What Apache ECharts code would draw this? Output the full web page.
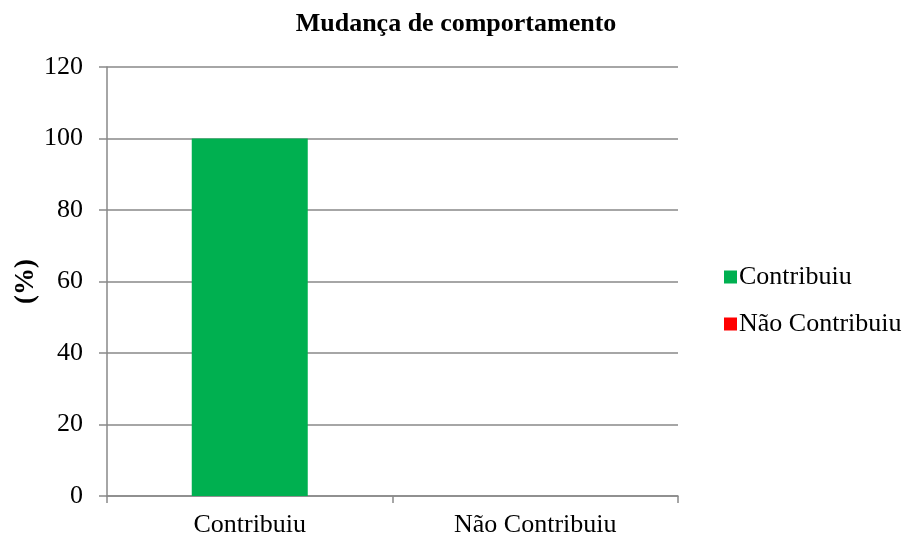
<!DOCTYPE html>
<html>
<head>
<meta charset="utf-8">
<script src="https://cdn.jsdelivr.net/npm/echarts@6/dist/echarts.min.js"></script>
<style>
  html, body { margin: 0; padding: 0; background: #fff; }
  #chart { width: 907px; height: 542px; }
</style>
</head>
<body>
<div id="chart"></div>
<script>
// dados do gráfico
const categorias = ['Contribuiu', 'Não Contribuiu'];
const contribuiu = [100, '-'];
const naoContribuiu = ['-', 0];
const serif = '"Liberation Serif", "DejaVu Serif", serif';

const chart = echarts.init(document.getElementById('chart'));

chart.setOption({
  animation: false,
  title: {
    text: 'Mudança de comportamento',
    left: 451,
    textAlign: 'center',
    top: 6,
    textStyle: { fontFamily: serif, fontSize: 26, fontWeight: 'bold', color: '#000' }
  },
  legend: {
    orient: 'vertical',
    left: 719,
    top: 257,
    itemWidth: 13,
    itemHeight: 13,
    itemGap: 17,
    icon: 'rect',
    textStyle: { fontFamily: serif, fontSize: 26, lineHeight: 30, color: '#000', padding: [0, 0, 0, -3] },
    data: ['Contribuiu', 'Não Contribuiu']
  },
  grid: { left: 107, right: 229, top: 67, bottom: 46, outerBoundsMode: 'none' },
  xAxis: {
    type: 'category',
    data: categorias,
    axisLine: { lineStyle: { color: '#898989', width: 1.5 } },
    axisTick: { show: true, length: 7, alignWithLabel: false, lineStyle: { color: '#898989', width: 1.5 } },
    axisLabel: { fontFamily: serif, fontSize: 26, color: '#000', margin: 16 }
  },
  yAxis: {
    type: 'value',
    min: 0,
    max: 120,
    interval: 20,
    name: '(%)',
    nameLocation: 'middle',
    nameGap: 67,
    nameMoveOverlap: false,
    nameTextStyle: { fontFamily: serif, fontSize: 27, fontWeight: 'bold', color: '#000' },
    axisLine: { show: true, lineStyle: { color: '#898989', width: 1.5 } },
    axisTick: { show: true, length: 8, lineStyle: { color: '#898989', width: 1.5 } },
    splitLine: { lineStyle: { color: '#898989', width: 1.5 } },
    axisLabel: { fontFamily: serif, fontSize: 26, color: '#000', margin: 24 }
  },
  series: [
    {
      name: 'Contribuiu',
      type: 'bar',
      stack: 'total',
      barWidth: 116,
      data: contribuiu,
      itemStyle: { color: '#00B050' }
    },
    {
      name: 'Não Contribuiu',
      type: 'bar',
      stack: 'total',
      barWidth: 116,
      data: naoContribuiu,
      itemStyle: { color: '#FF0000' }
    }
  ]
});
</script>
</body>
</html>
